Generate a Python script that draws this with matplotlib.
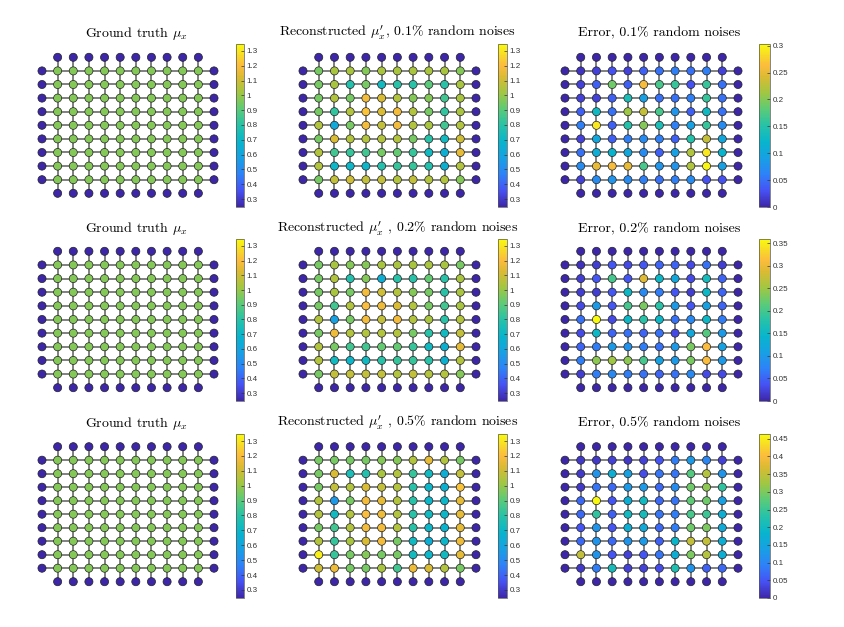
import numpy as np
import matplotlib
matplotlib.use('Agg')
import matplotlib.pyplot as plt
from matplotlib.colors import LinearSegmentedColormap

plt.rcParams['mathtext.fontset'] = 'cm'
plt.rcParams['font.family'] = ['Liberation Sans', 'DejaVu Sans']

# parula-like colormap (MATLAB default), anchors
parula_pos = [0.0, 0.1, 0.2, 0.3, 0.4, 0.5, 0.6, 0.7, 0.8, 0.87, 0.93, 1.0]
parula_rgb = [
    (0.2422, 0.1504, 0.6603), (0.2770, 0.3200, 0.9550), (0.1800, 0.5100, 0.9700),
    (0.0900, 0.6300, 0.8900), (0.0300, 0.7100, 0.8000), (0.1500, 0.7600, 0.6600),
    (0.3600, 0.7950, 0.4700), (0.6300, 0.7800, 0.2600), (0.8600, 0.7300, 0.2000),
    (0.9900, 0.7400, 0.2400), (0.9700, 0.8500, 0.1600), (0.9763, 0.9831, 0.0538),
]
parula = LinearSegmentedColormap.from_list('parula', list(zip(parula_pos, parula_rgb)))

# grid: 10 interior columns x 9 interior rows, boundary nodes all round
truth_interior = 0.97
boundary_mu = 0.25
boundary_err = 0.0

rec_01 = [
    [0.95, 1.03, 1.03, 0.97, 1.03, 1.03, 1.03, 1.03, 1.03, 0.97],
    [0.95, 1.03, 0.78, 0.95, 0.72, 0.80, 0.80, 0.90, 0.80, 1.03],
    [0.95, 1.05, 0.95, 1.18, 1.12, 1.05, 0.97, 0.97, 0.85, 1.03],
    [0.95, 0.82, 1.05, 1.22, 1.12, 1.18, 1.05, 0.95, 0.82, 1.03],
    [1.05, 0.62, 0.95, 1.18, 1.08, 1.18, 1.05, 1.03, 0.85, 1.05],
    [0.95, 1.12, 1.05, 1.05, 1.05, 1.05, 0.95, 0.80, 0.72, 1.10],
    [1.05, 0.85, 0.83, 0.85, 0.95, 0.92, 0.83, 0.72, 0.65, 1.15],
    [1.05, 0.70, 0.70, 0.70, 0.78, 0.83, 0.83, 0.78, 0.66, 1.05],
    [0.95, 1.08, 1.10, 1.08, 1.08, 1.05, 1.08, 1.05, 1.05, 0.97],
]
err_01 = [
    [0.01, 0.02, 0.03, 0.02, 0.04, 0.05, 0.06, 0.05, 0.06, 0.02],
    [0.02, 0.04, 0.19, 0.04, 0.26, 0.17, 0.16, 0.03, 0.16, 0.05],
    [0.02, 0.02, 0.04, 0.14, 0.09, 0.05, 0.05, 0.06, 0.16, 0.05],
    [0.04, 0.13, 0.05, 0.21, 0.23, 0.17, 0.08, 0.04, 0.13, 0.05],
    [0.06, 0.29, 0.04, 0.15, 0.20, 0.14, 0.06, 0.09, 0.16, 0.07],
    [0.02, 0.10, 0.04, 0.06, 0.07, 0.06, 0.04, 0.15, 0.23, 0.10],
    [0.05, 0.11, 0.12, 0.10, 0.07, 0.04, 0.09, 0.22, 0.29, 0.12],
    [0.07, 0.25, 0.26, 0.25, 0.17, 0.08, 0.08, 0.22, 0.30, 0.09],
    [0.02, 0.07, 0.08, 0.07, 0.06, 0.05, 0.06, 0.07, 0.03, 0.03],
]
rec_02 = [
    [0.95, 1.03, 0.97, 0.97, 1.03, 1.03, 1.03, 1.03, 1.03, 0.95],
    [0.95, 1.05, 0.78, 0.97, 0.65, 0.80, 0.80, 0.92, 0.80, 1.03],
    [0.95, 1.03, 0.95, 1.18, 1.10, 1.05, 0.97, 0.95, 0.80, 1.03],
    [0.95, 0.85, 1.05, 1.20, 1.17, 1.12, 1.05, 0.95, 0.85, 1.03],
    [1.05, 0.58, 0.95, 1.18, 1.08, 1.18, 1.05, 1.03, 0.80, 1.05],
    [0.95, 1.17, 1.05, 1.05, 1.05, 1.05, 0.95, 0.80, 0.72, 1.08],
    [1.05, 0.95, 0.85, 0.85, 0.92, 0.92, 0.83, 0.72, 0.66, 1.15],
    [1.05, 0.72, 0.70, 0.72, 0.80, 0.83, 0.83, 0.80, 0.66, 1.05],
    [0.95, 1.08, 1.08, 1.08, 1.08, 1.05, 1.08, 1.05, 1.05, 0.97],
]
err_02 = [
    [0.01, 0.02, 0.04, 0.03, 0.04, 0.05, 0.05, 0.03, 0.06, 0.02],
    [0.02, 0.04, 0.20, 0.04, 0.29, 0.15, 0.12, 0.03, 0.16, 0.05],
    [0.02, 0.02, 0.04, 0.15, 0.08, 0.07, 0.04, 0.02, 0.15, 0.05],
    [0.03, 0.10, 0.04, 0.20, 0.23, 0.18, 0.10, 0.04, 0.11, 0.05],
    [0.06, 0.36, 0.03, 0.15, 0.18, 0.15, 0.06, 0.08, 0.15, 0.07],
    [0.03, 0.15, 0.05, 0.06, 0.05, 0.06, 0.03, 0.12, 0.21, 0.10],
    [0.05, 0.07, 0.10, 0.09, 0.07, 0.06, 0.10, 0.23, 0.31, 0.11],
    [0.07, 0.24, 0.25, 0.24, 0.20, 0.11, 0.10, 0.23, 0.31, 0.10],
    [0.02, 0.07, 0.08, 0.07, 0.06, 0.05, 0.06, 0.08, 0.03, 0.03],
]
rec_05 = [
    [0.95, 0.95, 0.95, 0.95, 0.97, 0.97, 1.05, 1.15, 1.05, 0.95],
    [0.95, 1.12, 0.75, 0.78, 1.03, 1.05, 0.83, 0.72, 0.65, 1.08],
    [0.95, 1.08, 1.05, 1.12, 1.08, 1.05, 0.80, 0.70, 0.66, 1.22],
    [1.05, 0.55, 0.95, 1.18, 1.15, 1.05, 0.80, 0.70, 0.70, 1.15],
    [1.05, 0.72, 1.05, 1.20, 1.17, 1.05, 0.80, 0.72, 0.70, 1.15],
    [0.95, 0.85, 1.05, 1.18, 1.18, 1.05, 0.80, 0.70, 0.68, 1.15],
    [1.05, 0.83, 1.03, 1.12, 1.18, 0.95, 0.72, 0.65, 0.70, 1.17],
    [1.32, 0.83, 0.95, 0.97, 0.95, 0.95, 0.73, 0.70, 0.72, 1.15],
    [1.10, 1.17, 0.95, 0.95, 1.03, 0.85, 1.17, 1.12, 1.05, 0.95],
]
err_05 = [
    [0.02, 0.02, 0.03, 0.02, 0.03, 0.05, 0.09, 0.13, 0.10, 0.03],
    [0.02, 0.12, 0.17, 0.14, 0.04, 0.08, 0.08, 0.27, 0.34, 0.12],
    [0.02, 0.08, 0.07, 0.13, 0.13, 0.07, 0.11, 0.29, 0.31, 0.24],
    [0.07, 0.46, 0.05, 0.17, 0.20, 0.07, 0.08, 0.28, 0.29, 0.14],
    [0.07, 0.24, 0.06, 0.20, 0.21, 0.08, 0.09, 0.26, 0.25, 0.17],
    [0.05, 0.12, 0.05, 0.17, 0.16, 0.07, 0.09, 0.29, 0.30, 0.16],
    [0.07, 0.12, 0.07, 0.12, 0.13, 0.06, 0.19, 0.35, 0.35, 0.17],
    [0.35, 0.12, 0.05, 0.03, 0.05, 0.08, 0.17, 0.30, 0.34, 0.17],
    [0.02, 0.09, 0.21, 0.03, 0.03, 0.04, 0.22, 0.12, 0.06, 0.07],
]

noise_labels = ['0.1', '0.2', '0.5']
rec_list = [rec_01, rec_02, rec_05]
err_list = [err_01, err_02, err_05]
mu_lim = (0.246, 1.347)
err_lims = [(0, 0.303), (0, 0.359), (0, 0.4636)]
mu_ticks = [0.3, 0.4, 0.5, 0.6, 0.7, 0.8, 0.9, 1.0, 1.1, 1.2, 1.3]
err_ticks = [[0, 0.05, 0.1, 0.15, 0.2, 0.25, 0.3],
             [0, 0.05, 0.1, 0.15, 0.2, 0.25, 0.3, 0.35],
             [0, 0.05, 0.1, 0.15, 0.2, 0.25, 0.3, 0.35, 0.4, 0.45]]

W, H = 845, 627
fig = plt.figure(figsize=(W / 100, H / 100), dpi=100)

# node layout in pixels
col_px = [(42, 214), (303, 476), (565, 738)]
row_px = [(57.3, 193.3), (251.3, 387.7), (446.7, 581.7)]
cbar_x = [(236, 244), (498, 507), (759, 770)]
cbar_y = [(44, 207), (239, 401), (434, 598)]
title_y = [33, 229, 423]


def axes_rect(x0, x1, y0, y1, ncol=11, nrow=10):
    dx = (x1 - x0) / ncol
    dy = (y1 - y0) / nrow
    left, right = x0 - 0.5 * dx, x1 + 0.5 * dx
    top, bottom = y0 - 0.5 * dy, y1 + 0.5 * dy
    return [left / W, 1 - bottom / H, (right - left) / W, (bottom - top) / H]


def node_values(interior, bval):
    xs, ys, vs = [], [], []
    for c in range(1, 11):
        xs += [c, c]
        ys += [0, 10]
        vs += [bval, bval]
    for r in range(1, 10):
        xs += [0, 11]
        ys += [r, r]
        vs += [bval, bval]
        for c in range(1, 11):
            xs.append(c)
            ys.append(r)
            vs.append(interior[r - 1][c - 1])
    return xs, ys, vs


def draw_panel(i, j, interior, bval, lim, ticks, title):
    ax = fig.add_axes(axes_rect(*col_px[j], *row_px[i]))
    for r in range(1, 10):
        ax.plot([0, 11], [r, r], color='#808080', lw=1.4, zorder=1)
    for c in range(1, 11):
        ax.plot([c, c], [0, 10], color='#808080', lw=1.4, zorder=1)
    xs, ys, vs = node_values(interior, bval)
    sc = ax.scatter(xs, ys, c=vs, cmap=parula, vmin=lim[0], vmax=lim[1],
                    s=34, edgecolors='#222222', linewidths=0.5, zorder=2)
    ax.set_xlim(-0.5, 11.5)
    ax.set_ylim(10.5, -0.5)
    ax.axis('off')

    x0, x1 = cbar_x[j]
    y0, y1 = cbar_y[i]
    cax = fig.add_axes([x0 / W, 1 - y1 / H, (x1 - x0) / W, (y1 - y0) / H])
    cb = fig.colorbar(sc, cax=cax, ticks=ticks)
    cb.ax.set_yticklabels([f'{t:g}' for t in ticks])
    cb.ax.tick_params(labelsize=5.8, length=2, width=0.5, direction='in',
                      pad=2, colors='#333333')
    cb.outline.set_linewidth(0.5)
    cb.outline.set_edgecolor('#555555')

    xc = (col_px[j][0] + col_px[j][1]) / 2 + 8
    fig.text(xc / W, 1 - title_y[i] / H, title, ha='center', va='center',
             fontsize=10, family='cmr10')


for i in range(3):
    truth = [[truth_interior] * 10 for _ in range(9)]
    draw_panel(i, 0, truth, boundary_mu, mu_lim, mu_ticks,
               r'Ground truth $\mu_x$')
    sep = ',' if i == 0 else ' ,'
    rec_title = (r"Reconstructed $\mu_x^{\prime}$" + sep + ' ' +
                 noise_labels[i] + '% random noises')
    draw_panel(i, 1, rec_list[i], boundary_mu, mu_lim, mu_ticks, rec_title)
    err_title = 'Error, ' + noise_labels[i] + '% random noises'
    draw_panel(i, 2, err_list[i], boundary_err, err_lims[i], err_ticks[i],
               err_title)

fig.savefig('out.png', dpi=100)
